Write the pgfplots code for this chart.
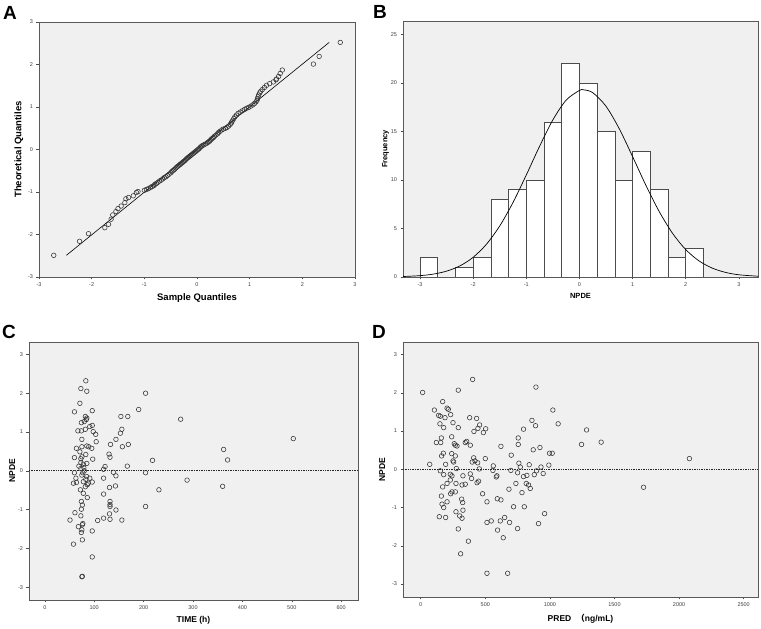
\documentclass[border=0pt]{standalone}
\usepackage{pgfplots}
\pgfplotsset{compat=1.18}
\usepackage{fontspec}
\setmainfont{Liberation Sans}
\newfontfamily\cjk{Noto Sans CJK SC}
\pgfplotsset{
  spss/.style={
    scale only axis,
    axis background/.style={fill=gray!12},
    axis line style={draw=black!65, line width=0.8pt},
    tick style={black!70, line width=0.5pt},
    tick align=outside, tick pos=left,
    major tick length=2.5pt,
    ticklabel style={font=\fontsize{5.5}{6}\selectfont, text=black!75},
    label style={font=\bfseries\fontsize{8.5}{9}\selectfont},
    /pgf/number format/assume math mode=true,
    /pgf/number format/1000 sep={},
    scaled ticks=false,
  },
  pts/.style={only marks, mark=o, mark size=2.3pt, mark options={draw=black!80, line width=0.55pt}},
}
\begin{document}
\begin{tikzpicture}
\path (0pt,0pt) rectangle (761pt,629pt);
% ---------------- A
\begin{axis}[spss, at={(39pt,352pt)}, anchor=south west, width=316pt, height=255pt,
  xmin=-3, xmax=3, ymin=-3, ymax=3, xtick={-3,...,3}, ytick={-3,...,3},
  xlabel={Sample Quantiles}, ylabel={Theoretical Quantiles}, ylabel shift=-2pt,
  label style={font=\bfseries\fontsize{9.5}{10}\selectfont}]
\addplot[black, line width=0.6pt] coordinates {(-2.48,-2.49) (2.51,2.52)};
\addplot[pts] coordinates {
(-2.72,-2.49) (-2.23,-2.16) (-2.06,-1.98) (-1.75,-1.84) (-1.68,-1.76) (-1.63,-1.64)
(-1.60,-1.54) (-1.54,-1.46) (-1.50,-1.39) (-1.44,-1.33) (-1.37,-1.25) (-1.35,-1.16)
(-1.30,-1.13) (-1.21,-1.09) (-1.15,-1.01) (-1.12,-0.99) (-1.00,-0.96) (-0.96,-0.94)
(-0.92,-0.92) (-0.88,-0.89) (-0.85,-0.87) (-0.82,-0.85) (-0.80,-0.82) (-0.77,-0.80)
(-0.74,-0.77) (-0.71,-0.74) (-0.68,-0.72) (-0.65,-0.69) (-0.62,-0.66) (-0.59,-0.64)
(-0.56,-0.61) (-0.53,-0.58) (-0.50,-0.55) (-0.48,-0.52) (-0.46,-0.50) (-0.44,-0.48)
(-0.42,-0.46) (-0.40,-0.43) (-0.38,-0.41) (-0.36,-0.39) (-0.34,-0.37) (-0.32,-0.35)
(-0.30,-0.33) (-0.28,-0.31) (-0.26,-0.29) (-0.24,-0.27) (-0.22,-0.25) (-0.20,-0.22)
(-0.18,-0.20) (-0.16,-0.18) (-0.14,-0.16) (-0.12,-0.14) (-0.10,-0.12) (-0.08,-0.10)
(-0.06,-0.08) (-0.04,-0.06) (-0.02,-0.04) (0.00,-0.02) (0.02,0.00) (0.04,0.02)
(0.06,0.05) (0.08,0.07) (0.10,0.09) (0.13,0.11) (0.16,0.13) (0.19,0.15)
(0.21,0.17) (0.23,0.19) (0.25,0.21) (0.27,0.24) (0.29,0.26) (0.31,0.28)
(0.33,0.31) (0.36,0.34) (0.39,0.37) (0.41,0.40) (0.44,0.43) (0.47,0.46)
(0.50,0.48) (0.54,0.50) (0.57,0.52) (0.60,0.55) (0.63,0.59) (0.65,0.62)
(0.66,0.65) (0.68,0.69) (0.70,0.73) (0.72,0.77) (0.75,0.81) (0.78,0.85)
(0.82,0.88) (0.86,0.91) (0.90,0.94) (0.94,0.97) (0.98,0.99) (1.02,1.02)
(1.06,1.05) (1.09,1.08) (1.12,1.12) (1.14,1.16) (1.15,1.20) (1.16,1.24)
(1.17,1.28) (1.19,1.33) (1.21,1.37) (1.24,1.41) (1.28,1.46) (1.32,1.51)
(1.38,1.55) (1.45,1.59) (1.50,1.64) (1.51,1.66) (1.55,1.72) (1.58,1.79)
(1.62,1.87) (2.21,2.01) (2.32,2.19) (2.72,2.52)
};
\end{axis}
% ---------------- B
\begin{axis}[spss, at={(403pt,352pt)}, anchor=south west, width=355pt, height=256pt,
  xmin=-3.32, xmax=3.36, ymin=0, ymax=26.4, xtick={-3,...,3}, ytick={0,5,...,25},
  xlabel={NPDE}, ylabel={Frequency}, ylabel shift=-5pt,
  label style={font=\bfseries\fontsize{7.5}{8}\selectfont}]
\addplot[ybar interval, fill=white, draw=black!70, line width=0.6pt] coordinates {
(-3,2) (-2.6667,0) (-2.3333,1) (-2,2) (-1.6667,8) (-1.3333,9) (-1,10) (-0.6667,16)
(-0.3333,22) (0,20) (0.3333,15) (0.6667,10) (1,13) (1.3333,9) (1.6667,2) (2,3) (2.3333,3)};
\addplot[black, line width=0.7pt, smooth] coordinates {
(-3.32,0.050) (-3.0,0.138) (-2.75,0.298) (-2.5,0.604) (-2.25,1.143) (-2.0,2.030)
(-1.75,3.376) (-1.5,5.261) (-1.25,7.686) (-1.0,10.52) (-0.75,13.48) (-0.5,16.20)
(-0.25,18.24) (0,19.24) (0.08,19.3) (0.25,19.01) (0.5,17.61) (0.75,15.28)
(1.0,12.42) (1.25,9.46) (1.5,6.76) (1.75,4.52) (2.0,2.83) (2.25,1.66)
(2.5,0.915) (2.75,0.472) (3.0,0.228) (3.36,0.080)};
\end{axis}
% ---------------- C
\begin{axis}[spss, at={(29pt,29pt)}, anchor=south west, width=329pt, height=258pt,
  xmin=-32, xmax=634, ymin=-3.33, ymax=3.32, xtick={0,100,...,600}, ytick={-3,...,3},
  xlabel={TIME (h)}, ylabel={NPDE}, ylabel shift=-4pt]
\addplot[black!85, densely dotted, line width=0.7pt] coordinates {(-32,0) (634,0)};
\addplot[pts] coordinates {
(83,2.32) (73,2.12) (85,2.05) (204,2.00) (71,1.74) (60,1.52) (96,1.55) (190,1.58)
(154,1.40) (168,1.40) (275,1.33) (82,1.40) (85,1.36) (84,1.32) (80,1.27) (74,1.24)
(96,1.17) (91,1.14) (67,1.03) (74,1.03) (82,1.07) (156,1.07) (98,1.01) (103,0.94)
(153,0.97) (75,0.81) (144,0.81) (503,0.83) (104,0.75) (133,0.68) (169,0.68) (64,0.58)
(75,0.62) (85,0.64) (89,0.62) (95,0.58) (157,0.62) (362,0.55) (71,0.49) (83,0.42)
(130,0.43) (132,0.35) (60,0.34) (75,0.36) (97,0.30) (218,0.27) (370,0.28) (73,0.21)
(78,0.17) (85,0.19) (167,0.12) (122,0.11) (119,0.04) (69,0.12) (73,0.06) (80,0.00)
(60,-0.05) (139,-0.04) (204,-0.05) (63,-0.19) (75,-0.11) (85,-0.15) (119,-0.19) (144,-0.13)
(58,-0.32) (78,-0.28) (83,-0.22) (91,-0.19) (96,-0.29) (288,-0.24) (64,-0.30) (82,-0.41)
(86,-0.36) (88,-0.32) (131,-0.43) (143,-0.39) (360,-0.40) (72,-0.49) (231,-0.49) (78,-0.58)
(119,-0.60) (86,-0.69) (74,-0.79) (132,-0.79) (132,-0.87) (132,-0.92) (76,-0.88) (74,-0.99)
(144,-1.01) (204,-0.92) (61,-1.08) (131,-1.11) (73,-1.16) (119,-1.22) (107,-1.28) (51,-1.27)
(132,-1.25) (156,-1.27) (68,-1.44) (76,-1.39) (77,-1.36) (75,-1.52) (74,-1.59) (96,-1.55)
(76,-1.78) (58,-1.89) (96,-2.22) (75,-2.73) (76,-2.72) (79,0.08) (77,-0.05) (73,0.31)
};
\end{axis}
% ---------------- D
\begin{axis}[spss, at={(403pt,32pt)}, anchor=south west, width=355pt, height=255pt,
  xmin=-137, xmax=2611, ymin=-3.34, ymax=3.33, xtick={0,500,...,2500}, ytick={-3,...,3},
  xlabel={PRED\hspace{0.6em}{\cjk （}ng/mL)}, ylabel={NPDE}]
\addplot[black!85, densely dotted, line width=0.7pt] coordinates {(-137,0) (2611,0)};
\addplot[pts] coordinates {
(15,2.01) (402,2.35) (291,2.07) (892,2.15) (170,1.77) (106,1.55) (204,1.60) (214,1.57)
(1023,1.55) (139,1.41) (152,1.39) (232,1.43) (379,1.35) (433,1.33) (188,1.35) (861,1.28)
(149,1.19) (250,1.22) (456,1.16) (889,1.14) (1064,1.19) (178,1.09) (291,1.09) (443,1.07)
(503,1.06) (796,1.05) (1284,1.03) (412,0.99) (485,0.96) (160,0.82) (240,0.85) (755,0.82)
(356,0.73) (345,0.70) (121,0.70) (155,0.70) (384,0.63) (260,0.67) (268,0.63) (281,0.61)
(621,0.60) (755,0.65) (1245,0.65) (1397,0.71) (923,0.57) (871,0.51) (175,0.42) (162,0.35)
(240,0.41) (268,0.35) (701,0.37) (997,0.42) (1018,0.42) (410,0.30) (420,0.22) (399,0.19)
(441,0.17) (500,0.28) (760,0.16) (250,0.22) (255,0.19) (193,0.13) (70,0.13) (840,0.12)
(992,0.11) (2080,0.28) (562,0.09) (771,0.06) (931,0.06) (276,0.02) (454,0.01) (152,-0.04)
(559,-0.03) (698,-0.03) (750,-0.09) (897,-0.04) (178,-0.14) (229,-0.13) (242,-0.17) (327,-0.17)
(590,-0.17) (585,-0.20) (796,-0.19) (822,-0.16) (879,-0.14) (948,-0.11) (384,-0.12) (394,-0.24)
(448,-0.31) (436,-0.35) (229,-0.28) (204,-0.37) (273,-0.37) (345,-0.39) (320,-0.41) (817,-0.37)
(835,-0.41) (848,-0.50) (737,-0.37) (683,-0.52) (170,-0.46) (479,-0.64) (784,-0.61) (232,-0.64)
(242,-0.59) (268,-0.59) (160,-0.70) (513,-0.85) (593,-0.77) (621,-0.80) (317,-0.78) (325,-0.87)
(165,-0.91) (178,-1.00) (204,-0.85) (719,-0.98) (802,-0.98) (327,-1.07) (273,-1.11) (144,-1.24)
(193,-1.26) (302,-1.22) (320,-1.28) (959,-1.16) (650,-1.26) (616,-1.35) (546,-1.35) (513,-1.39)
(688,-1.39) (912,-1.42) (291,-1.56) (595,-1.59) (750,-1.55) (639,-1.79) (369,-1.88) (309,-2.21)
(513,-2.72) (673,-2.72) (1725,-0.47)
};
\end{axis}
% panel letters
\node[anchor=north west, inner sep=0pt, font=\bfseries\fontsize{19}{19}\selectfont] at (3pt,623pt) {A};
\node[anchor=north west, inner sep=0pt, font=\bfseries\fontsize{19}{19}\selectfont] at (373pt,624pt) {B};
\node[anchor=north west, inner sep=0pt, font=\bfseries\fontsize{19}{19}\selectfont] at (2pt,304pt) {C};
\node[anchor=north west, inner sep=0pt, font=\bfseries\fontsize{19}{19}\selectfont] at (372pt,304pt) {D};
\end{tikzpicture}
\end{document}
